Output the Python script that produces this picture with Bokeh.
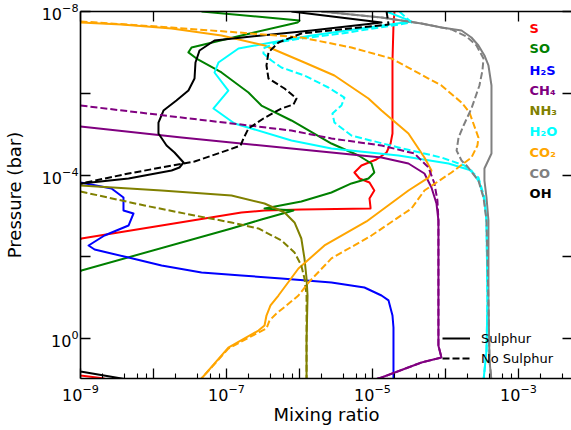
from bokeh.plotting import figure
from bokeh.models import LogAxis, FixedTicker, LogTickFormatter, Range1d, Label, Legend, LegendItem
from bokeh.embed import file_html
from bokeh.resources import INLINE

FONT = "DejaVu Sans"

# ---------------- data: mixing ratio (x) vs pressure [bar] (y) ----------------
# "Sulphur" runs (solid)
S_x = [2.0e-5, 1.94e-5, 1.88e-5, 1.88e-5, 1.77e-5, 1.56e-5, 1.13e-5, 7.06e-6, 5.66e-6, 6.64e-6,
       9.1e-6, 1.06e-5, 9.1e-6, 9.4e-6, 9.4e-6, 1.06e-6, 3.32e-7, 1.6e-7, 1.29e-8, 1.03e-9,
       1e-10, 1.0e-9, 2.13e-9]
S_p = [1.0e-8, 2.2e-8, 1.58e-7, 9.62e-6, 1.69e-5, 2.8e-5, 4.16e-5, 5.82e-5, 8.63e-5, 1.21e-4,
       1.52e-4, 2.38e-4, 3.73e-4, 6.19e-4, 6.56e-4, 6.93e-4, 7.34e-4, 8.21e-4, 1.71e-3, 3.55e-3,
       0.116, 7.94, 9.4]

SO_x = [4.55e-8, 1.0e-6, 9.4e-7, 1.6e-7, 3.32e-8, 3.01e-8, 3.88e-8, 8.55e-8, 2.0e-7, 3.01e-7,
        7.76e-7, 2.74e-6, 6.43e-6, 9.68e-6, 1.06e-5, 8.81e-6, 5.15e-6, 2.74e-6, 1.06e-6, 3.32e-7,
        8.28e-7, 3.01e-7, 1.17e-7, 1.03e-9, 1e-10]
SO_p = [1e-8, 1.66e-8, 1.86e-8, 3.86e-8, 7.59e-8, 1.0e-7, 1.41e-7, 3.1e-7, 9.55e-7, 1.99e-6,
        4.62e-6, 1.69e-5, 3.32e-5, 5.2e-5, 8.63e-5, 1.21e-4, 1.6e-4, 2.66e-4, 4.42e-4, 6.56e-4,
        7.34e-4, 1.22e-3, 2.02e-3, 2.15e-2, 0.631]

H2S_x = [1.0e-9, 2.66e-9, 3.88e-9, 3.88e-9, 5.32e-9, 4.55e-9, 2.13e-9, 1.29e-9, 1.56e-9, 4.55e-9,
         1.29e-8, 4.55e-8, 1.6e-7, 5.66e-7, 2.74e-6, 7.76e-6, 1.33e-5, 1.66e-5, 1.88e-5, 1.94e-5,
         1.94e-5]
H2S_p = [1.52e-4, 2.13e-4, 3.53e-4, 7.34e-4, 8.69e-4, 1.71e-3, 3.0e-3, 5.26e-3, 6.59e-3, 1.04e-2,
         1.62e-2, 2.4e-2, 2.85e-2, 3.37e-2, 4.23e-2, 5.6e-2, 8.79e-2, 0.116, 0.271, 0.532, 10.5]

CH4_x = [1.0e-9, 2.42e-8, 7.76e-7, 2.74e-6, 1.33e-5, 3.11e-5, 5.15e-5, 6.43e-5, 7.53e-5, 8.01e-5,
         8.01e-5, 8.81e-5, 4.69e-5, 1.33e-5, 9.68e-6]
CH4_p = [6.49e-6, 1.21e-5, 2.24e-5, 2.8e-5, 3.72e-5, 5.2e-5, 9.14e-5, 2.01e-4, 4.94e-4, 1.29e-3,
         1.48, 2.88, 3.82, 8.89, 10.5]

NH3_x = [1.0e-9, 1.29e-8, 1.17e-7, 3.32e-7, 6.24e-7, 8.55e-7, 1.06e-6, 1.17e-6, 1.25e-6, 1.29e-6,
         1.25e-6, 1.25e-6]
NH3_p = [1.79e-4, 2.38e-4, 3.15e-4, 4.94e-4, 8.21e-4, 1.44e-3, 3.55e-3, 1.09e-2, 3.37e-2, 8.79e-2,
         1.12, 10.5]

H2O_x = [1.56e-5, 3.42e-5, 1.46e-6, 4.13e-7, 1.46e-7, 7.76e-8, 6.85e-8, 1.06e-7, 6.64e-8, 1.29e-7,
         7.76e-7, 2.74e-6, 2.27e-5, 1.1e-4, 2.27e-4, 2.92e-4, 3.42e-4, 3.65e-4, 3.76e-4, 3.65e-4,
         3.32e-4]
H2O_p = [1e-8, 1.75e-8, 3.86e-8, 5.73e-8, 8.03e-8, 1.77e-7, 3.1e-7, 8.55e-7, 2.35e-6, 5.47e-6,
         1.43e-5, 2.24e-5, 3.32e-5, 5.2e-5, 7.73e-5, 1.52e-4, 4.18e-4, 1.29e-3, 0.116, 1.96, 10.5]

CO2_x = [1.0e-9, 3.65e-9, 1.77e-8, 8.55e-8, 3.32e-7, 1.17e-6, 3.01e-6, 8.81e-6, 1.33e-5, 3.11e-5,
         5.15e-5, 6.43e-5, 5.85e-5, 3.11e-5, 8.28e-6, 2.2e-6, 9.68e-7, 5.15e-7, 4.01e-7, 3.53e-7,
         3.32e-7, 2.74e-7, 1.06e-7, 4.55e-8, 4.0e-8]
CO2_p = [1.86e-8, 2.08e-8, 2.61e-8, 3.86e-8, 6.78e-8, 1.77e-7, 3.67e-7, 1.34e-6, 2.64e-6, 9.62e-6,
         3.72e-5, 7.73e-5, 1.15e-4, 2.38e-4, 1.36e-3, 5.26e-3, 1.92e-2, 8.79e-2, 0.154, 0.271,
         0.475, 0.631, 1.66, 9.4, 12.4]

CO_x = [2.0e-6, 1.33e-5, 4.69e-5, 8.81e-5, 1.66e-4, 2.27e-4, 2.83e-4, 3.42e-4, 3.88e-4, 4.27e-4,
        4.27e-4, 4.27e-4, 3.42e-4, 3.42e-4, 3.65e-4, 3.88e-4, 3.88e-4, 4.01e-4, 4.27e-4]
CO_p = [1e-8, 1.4e-8, 1.96e-8, 2.46e-8, 2.92e-8, 4.32e-8, 6.78e-8, 1.19e-7, 2.09e-7, 6.44e-7,
        3.49e-6, 2.96e-5, 6.9e-5, 1.36e-4, 3.53e-4, 1.29e-3, 0.116, 3.41, 10.5]

OH_x = [7.76e-7, 1.33e-5, 1.46e-6, 2.2e-7, 6.85e-8, 4.27e-8, 3.76e-8, 3.65e-8, 3.01e-8, 2.06e-8,
        1.37e-8, 1.17e-8, 1.17e-8, 1.51e-8, 1.94e-8, 2.58e-8, 2.27e-8, 1.77e-8, 4.55e-9, 1.03e-9,
        1e-10, 1e-10, 1.0e-9, 3.65e-9, 5.0e-9]
OH_p = [1e-8, 1.86e-8, 2.92e-8, 4.08e-8, 5.12e-8, 8.99e-8, 1.77e-7, 4.35e-7, 8.55e-7, 1.5e-6,
        2.64e-6, 5.18e-6, 9.62e-6, 1.89e-5, 2.8e-5, 4.92e-5, 6.52e-5, 7.73e-5, 1.21e-4, 1.6e-4,
        2.26e-3, 1.12, 6.34, 9.4, 10.5]

# "No Sulphur" runs (dashed)
CH4_ns_x = [1.0e-9, 2.42e-8, 7.76e-7, 2.74e-6, 1.33e-5, 3.76e-5, 5.85e-5, 7.06e-5, 7.76e-5, 8.01e-5,
            8.01e-5, 8.81e-5, 4.69e-5, 1.33e-5, 9.68e-6]
CH4_ns_p = [1.99e-6, 3.91e-6, 8.13e-6, 1.27e-5, 1.89e-5, 2.96e-5, 6.52e-5, 1.6e-4, 4.18e-4, 1.29e-3,
            1.48, 2.88, 3.82, 8.89, 10.5]

NH3_ns_x = [1.0e-9, 7.53e-9, 3.65e-8, 1.17e-7, 2.74e-7, 5.66e-7, 8.55e-7, 1.06e-6, 1.17e-6, 1.25e-6,
            1.25e-6, 1.25e-6]
NH3_ns_p = [2.52e-4, 5.53e-4, 9.72e-4, 1.44e-3, 2.02e-3, 3.97e-3, 7.8e-3, 1.62e-2, 3.37e-2, 8.79e-2,
            1.12, 10.5]

H2O_ns_x = [2.34e-5, 3.42e-5, 3.76e-6, 1.06e-6, 4.84e-7, 3.21e-7, 3.21e-7, 4.13e-7, 5.66e-7, 1.17e-6,
            2.49e-6, 4.13e-6, 3.76e-6, 2.83e-6, 3.01e-6, 5.15e-6, 2.27e-5, 8.81e-5, 1.82e-4, 2.83e-4,
            3.42e-4, 3.65e-4, 3.76e-4, 3.65e-4, 3.32e-4]
H2O_ns_p = [1e-8, 1.86e-8, 3.45e-8, 4.57e-8, 5.73e-8, 8.03e-8, 1.06e-7, 1.58e-7, 2.34e-7, 3.67e-7,
            7.21e-7, 1.27e-6, 1.99e-6, 3.12e-6, 5.18e-6, 1.08e-5, 2.11e-5, 3.72e-5, 5.82e-5, 1.15e-4,
            3.53e-4, 1.29e-3, 0.116, 1.96, 10.5]

CO2_ns_x = [1.0e-9, 1.77e-8, 1.46e-7, 1.06e-6, 5.15e-6, 1.82e-5, 5.85e-5, 8.81e-5, 1.66e-4, 2.13e-4,
            2.83e-4, 2.74e-4, 2.27e-4, 1.21e-4, 5.15e-5, 3.42e-5, 9.68e-6, 2.74e-6, 1.33e-6, 9.68e-7,
            6.64e-7, 4.84e-7, 3.88e-7, 3.53e-7, 2.74e-7, 1.06e-7, 4.55e-8, 4.0e-8]
CO2_ns_p = [1.75e-8, 2.46e-8, 3.26e-8, 4.32e-8, 7.59e-8, 1.41e-7, 4.35e-7, 6.44e-7, 1.68e-6, 2.95e-6,
            1.21e-5, 1.89e-5, 3.72e-5, 8.63e-5, 2.38e-4, 6.56e-4, 3.0e-3, 1.09e-2, 4.23e-2, 8.79e-2,
            0.154, 0.242, 0.359, 0.563, 0.705, 1.75, 9.4, 12.4]

CO_ns_x = [2.0e-6, 1.33e-5, 4.69e-5, 1.21e-4, 1.94e-4, 2.66e-4, 3.32e-4, 3.21e-4, 2.92e-4, 2.27e-4,
           1.77e-4, 1.51e-4, 1.42e-4, 1.66e-4, 1.94e-4, 2.83e-4, 3.32e-4, 3.65e-4, 3.88e-4, 4.01e-4,
           4.27e-4]
CO_ns_p = [1e-8, 1.4e-8, 1.96e-8, 2.75e-8, 4.08e-8, 6.78e-8, 1.41e-7, 2.77e-7, 6.44e-7, 2.35e-6,
           6.12e-6, 1.21e-5, 2.51e-5, 4.4e-5, 5.82e-5, 1.36e-4, 3.53e-4, 1.29e-3, 0.116, 3.41, 10.5]

OH_ns_x = [1.56e-5, 1.66e-5, 1.06e-6, 5.15e-7, 3.76e-7, 3.53e-7, 3.76e-7, 6.24e-7, 9.1e-7, 8.28e-7,
           5.66e-7, 3.21e-7, 2.0e-7, 1.71e-7, 1.56e-7, 1.1e-7, 3.65e-8, 4.55e-9, 1.03e-9]
OH_ns_p = [1e-8, 2.08e-8, 3.45e-8, 5.73e-8, 1.0e-7, 2.09e-7, 4.35e-7, 7.64e-7, 1.34e-6, 1.88e-6,
           2.35e-6, 4.13e-6, 7.26e-6, 1.27e-5, 1.89e-5, 2.37e-5, 4.65e-5, 9.14e-5, 1.6e-4]

species = ["S", "SO", "H₂S", "CH₄", "NH₃", "H₂O", "CO₂", "CO", "OH"]
colors = ["red", "green", "blue", "purple", "olive", "cyan", "orange", "grey", "black"]

x_decades = [1e-9, 1e-8, 1e-7, 1e-6, 1e-5, 1e-4, 1e-3]
x_unlabelled = [1e-8, 1e-6, 1e-4]
y_labelled = [1e-8, 1e-4, 1.0]
y_unlabelled = [1e-6, 1e-2]

# ---------------- figure ----------------
p = figure(frame_width=492, frame_height=367, x_axis_type="log", y_axis_type="log",
           x_range=Range1d(1e-9, 5.5e-3), y_range=Range1d(9.4, 1e-8),
           output_backend="svg", toolbar_location=None,
           min_border_left=79, min_border_right=0, min_border_top=11, min_border_bottom=52)
p.outline_line_color = None
p.grid.visible = False
p.background_fill_color = "white"
p.border_fill_color = "white"

xb = p.below[0]
yl = p.left[0]
xt = LogAxis()
yr = LogAxis()
p.add_layout(xt, "above")
p.add_layout(yr, "right")

for ax in (xb, yl, xt, yr):
    ax.axis_line_color = "black"
    ax.axis_line_width = 1.6
    ax.major_tick_line_color = "black"
    ax.major_tick_line_width = 1.3
    ax.minor_tick_line_color = "black"
    ax.minor_tick_line_width = 1.1
    ax.major_tick_in = 10
    ax.major_tick_out = 0
    ax.minor_tick_out = 0
    ax.major_label_text_font = FONT
    ax.major_label_text_font_size = "16px"
    ax.major_label_text_color = "black"
    ax.axis_label_text_font = FONT
    ax.axis_label_text_font_size = "18px"
    ax.axis_label_text_font_style = "normal"
    ax.axis_label_text_color = "black"

xb.ticker = FixedTicker(ticks=x_decades,
                        minor_ticks=[m * d for d in x_decades for m in (2, 4, 6, 8)])
xb.formatter = LogTickFormatter()
xb.major_label_overrides = {v: "" for v in x_unlabelled}
xb.minor_tick_in = 5
xb.major_label_standoff = 5
xb.axis_label = "Mixing ratio"
xb.axis_label_standoff = 0

yl.ticker = FixedTicker(ticks=y_labelled, minor_ticks=y_unlabelled)
yl.formatter = LogTickFormatter()
yl.minor_tick_in = 10
yl.minor_tick_line_width = 1.3
yl.major_label_standoff = 2
yl.axis_label = "Pressure (bar)"
yl.axis_label_standoff = 14

xt.ticker = FixedTicker(ticks=[], minor_ticks=x_decades)
xt.minor_tick_in = 10
xt.minor_tick_line_width = 1.3
xt.major_label_standoff = 0

yr.ticker = FixedTicker(ticks=[], minor_ticks=y_labelled + y_unlabelled)
yr.minor_tick_in = 10
yr.minor_tick_line_width = 1.3
yr.major_label_standoff = 0
yr.axis_line_color = None

solid = [(S_x, S_p), (SO_x, SO_p), (H2S_x, H2S_p), (CH4_x, CH4_p), (NH3_x, NH3_p),
         (H2O_x, H2O_p), (CO2_x, CO2_p), (CO_x, CO_p), (OH_x, OH_p)]
dashed = [None, None, None, (CH4_ns_x, CH4_ns_p), (NH3_ns_x, NH3_ns_p),
          (H2O_ns_x, H2O_ns_p), (CO2_ns_x, CO2_ns_p), (CO_ns_x, CO_ns_p), (OH_ns_x, OH_ns_p)]

r_solid = None
r_dash = None
for (xs, ps), c in zip(solid, colors):
    r = p.line(xs, ps, line_color=c, line_width=2, line_join="round")
    r_solid = r
for d, c in zip(dashed, colors):
    if d is None:
        continue
    r = p.line(d[0], d[1], line_color=c, line_width=2, line_dash="7 3", line_join="round")
    r_dash = r

# species labels (coloured text key)
label_p = [2.61e-8, 8.03e-8, 2.77e-7, 8.55e-7, 2.64e-6, 8.59e-6, 2.8e-5, 9.14e-5, 2.82e-4]
for name, c, yp in zip(species, colors, label_p):
    p.add_layout(Label(x=1.42e-3, y=yp, text=name, text_color=c, text_font=FONT,
                       text_font_style="bold", text_font_size="13px",
                       text_align="left", text_baseline="middle"))

legend = Legend(items=[LegendItem(label="Sulphur", renderers=[r_solid]),
                       LegendItem(label="No Sulphur", renderers=[r_dash])],
                location=(362, 10), orientation="vertical",
                glyph_width=28, glyph_height=20, label_height=20, label_standoff=11,
                spacing=0, padding=0, margin=0,
                border_line_color=None, background_fill_alpha=0,
                label_text_font=FONT, label_text_font_size="13px", label_text_color="black")
p.add_layout(legend)

open("out.html", "w").write(file_html(p, INLINE))
